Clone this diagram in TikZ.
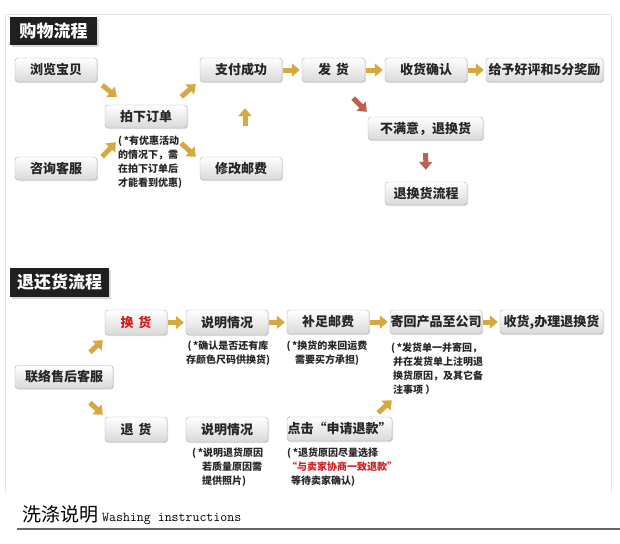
\documentclass[tikz,border=0pt]{standalone}
\usepackage{fontspec}
\newfontfamily\cjk{Noto Sans CJK SC}
\usetikzlibrary{arrows.meta,calc,shadows}
\definecolor{gold}{RGB}{214,168,64}
\definecolor{rust}{RGB}{186,98,78}
\definecolor{hotred}{RGB}{212,28,28}
\tikzset{
  box/.style={draw=gray!65, rounded corners=3pt, top color=white, bottom color=gray!30,
    minimum height=24pt, inner sep=0pt, text=black!85,
    font=\cjk\bfseries\fontsize{13}{13}\selectfont,
    drop shadow={shadow xshift=1pt,shadow yshift=-1pt,opacity=.25}},
  headbox/.style={fill=black!88, text=white, inner sep=0pt,
    font=\cjk\bfseries\fontsize{17}{17}\selectfont,
    drop shadow={shadow xshift=2pt,shadow yshift=-2pt,opacity=.3}},
  note/.style={inner sep=0pt, text=black!85, font=\cjk\bfseries\fontsize{10}{14}\selectfont},
  garrow/.style={draw=gold, line width=5pt, -{Triangle[length=8pt,width=13pt]}},
  rarrow/.style={garrow, draw=rust},
}
\begin{document}
\begin{tikzpicture}[x=1pt,y=-1pt]
\useasboundingbox (0,0) rectangle (620,543);
\draw[gray!20, line width=1pt] (5,493) -- (5,15) -- (611,15) -- (611,493);

% shopping flow
\node[headbox, minimum width=87pt, minimum height=28pt] (head1) at (53.5,31) {购物流程};
\node[box, minimum width=82pt] (browse) at (56,70) {浏览宝贝};
\node[box, minimum width=82pt, minimum height=23pt] (consult) at (56,168.5) {咨询客服};
\node[box, minimum width=82pt, minimum height=23pt] (order) at (146,116.5) {拍下订单};
\node[box, minimum width=82pt] (pay) at (241,70) {支付成功};
\node[box, minimum width=82pt, minimum height=23pt] (modify) at (241,168.5) {修改邮费};
\node[box, minimum width=63pt] (ship) at (333.5,70) {发\hspace{5pt}货};
\node[box, minimum width=82pt] (confirm) at (426,70) {收货确认};
\node[box, minimum width=117pt] (reward) at (544.5,70) {给予好评和5分奖励};
\node[box, minimum width=115pt, minimum height=23pt] (unsat) at (425.5,128.5) {不满意，退换货};
\node[box, minimum width=82pt, minimum height=23pt] (rflow) at (426,193.5) {退换货流程};
\node[note, anchor=north west, align=left] (ordernote) at (118,136)
  {(\,*有优惠活动\\的情况下，需\\在拍下订单后\\才能看到优惠)};

\draw[garrow] ($(browse.south east)+(5,3)$) -- ($(order.north west)+(12,-8)$);
\draw[garrow] ($(consult.north east)+(5,0)$) -- ($(order.south west)+(11,14)$);
\draw[garrow] ($(order.north east)+(-6,-8)$) -- ($(pay.south west)+(-4,2)$);
\draw[garrow] ($(order.south east)+(-6,15)$) -- ($(modify.north west)+(-4,0)$);
\draw[garrow] ($(modify.north)+(4,-31)$) -- ($(pay.south)+(4,26)$);
\foreach \a/\b in {pay/ship,ship/confirm,confirm/reward}
  \draw[garrow, shorten <=1pt, shorten >=2pt] (\a) -- (\b);
\draw[rarrow] ($(ship.south east)+(-12,16)$) -- ($(unsat.north west)+(-1,-5)$);
\draw[rarrow, shorten <=13pt, shorten >=12pt] (unsat) -- (rflow);

% return flow
\node[headbox, minimum width=99pt, minimum height=29pt] (head2) at (59.5,282.5) {退还货流程};
\node[box, minimum width=98pt, minimum height=23pt] (contact) at (64,377) {联络售后客服};
\node[box, minimum width=62pt, minimum height=25pt, text=hotred] (exch) at (136,322.5) {换\hspace{5pt}货};
\node[box, minimum width=82pt, minimum height=25pt] (explainA) at (227,322.5) {说明情况};
\node[box, minimum width=82pt] (postage) at (328,322) {补足邮费};
\node[box, minimum width=92pt] (sendback) at (436,322) {寄回产品至公司};
\node[box, minimum width=103pt] (handle) at (551.5,322) {收货,办理退换货};
\node[box, minimum width=62pt, minimum height=25pt] (refund) at (136,429.5) {退\hspace{5pt}货};
\node[box, minimum width=82pt, minimum height=25pt] (explainB) at (227,429.5) {说明情况};
\node[box, minimum width=105pt] (apply) at (339.5,429) {点击“申请退款”};

\node[note, anchor=north, align=center] (noteA) at (228,341)
  {(\,*确认是否还有库\\存颜色尺码供换货)};
\node[note, anchor=north, align=center] (notePost) at (327,341)
  {(\,*换货的来回运费\\需要买方承担)};
\node[note, anchor=north west, align=left] (noteSend) at (391,343)
  {(\,*发货单一并寄回，\\\hspace*{2pt}并在发货单上注明退\\\hspace*{2pt}换货原因，及其它备\\\hspace*{2pt}注事项 ）};
\node[note, anchor=north west, align=left] (noteB) at (192,448)
  {(\,*说明退货原因\\\hspace*{10pt}若质量原因需\\\hspace*{10pt}提供照片)};
\node[note, anchor=north west, align=left] (noteApply) at (287,448)
  {(\,*退货原因尽量选择\\\textcolor{hotred}{“与卖家协商一致退款”}\\\hspace*{4pt}等待卖家确认)};

\draw[garrow] ($(contact.north)+(26,-13)$) -- ($(exch.south west)+(-2,5)$);
\draw[garrow] ($(contact.south)+(26,14)$) -- ($(refund.north west)+(-2,-2)$);
\foreach \a/\b in {exch/explainA,explainA/postage,postage/sendback,sendback/handle}
  \draw[garrow, shorten <=1pt, shorten >=2pt] (\a) -- (\b);
\draw[garrow] ($(apply.north east)+(-14,-4)$) -- ($(sendback.south west)+(2,66)$);

% washing heading
\node[anchor=base west, inner sep=0pt] (wash) at (22,521)
  {\cjk\fontsize{19}{19}\selectfont 洗涤说明\hspace{4pt}{\ttfamily\fontsize{13.5}{13.5}\selectfont Washing instructions}};
\draw[black!60, line width=2pt] (17,529) -- (620,529);
\end{tikzpicture}
\end{document}
